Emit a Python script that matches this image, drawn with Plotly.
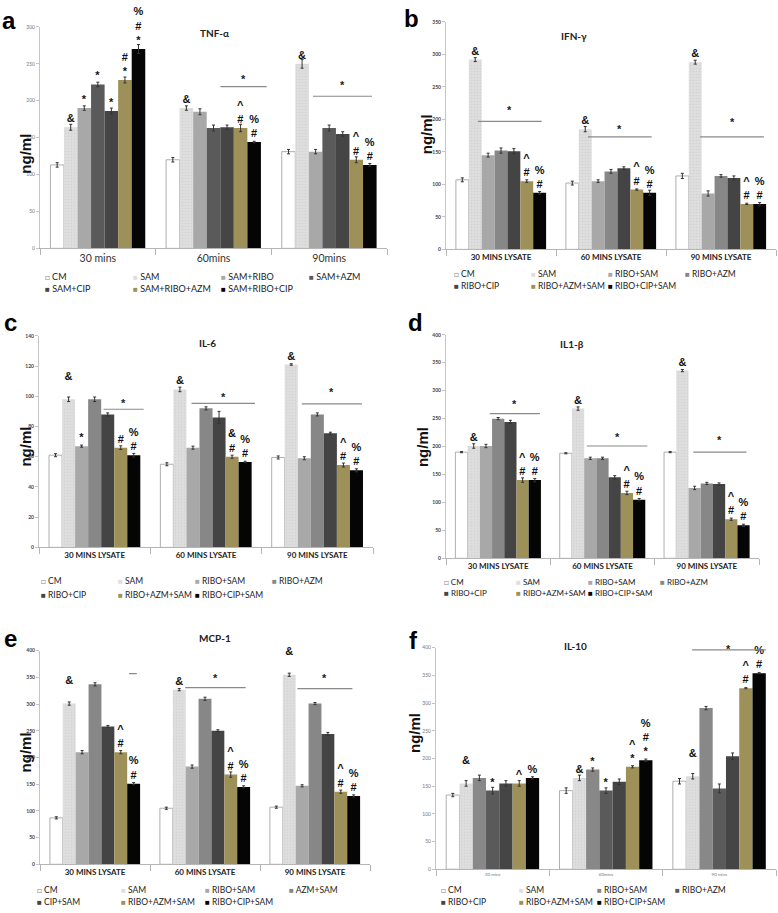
import plotly.graph_objects as go

W, H = 778, 913

# ---- data -------------------------------------------------------------
series_a = ["CM", "SAM", "SAM+RIBO", "SAM+AZM", "SAM+CIP", "SAM+RIBO+AZM", "SAM+RIBO+CIP"]
series_std = ["CM", "SAM", "RIBO+SAM", "RIBO+AZM", "RIBO+CIP", "RIBO+AZM+SAM", "RIBO+CIP+SAM"]
series_e = ["CM", "SAM", "RIBO+SAM", "AZM+SAM", "CIP+SAM", "RIBO+AZM+SAM", "RIBO+CIP+SAM"]

cats_a = ["30 mins", "60mins", "90mins"]
cats_lys = ["30 MINS LYSATE", "60 MINS LYSATE", "90 MINS LYSATE"]
cats_f = ["30 mins", "60mins", "90 mins"]

# one row per time point, one value per series
tnf = [[113, 164, 190, 222, 186, 228, 270],
       [120, 190, 185, 163, 164, 163, 144],
       [131, 250, 131, 163, 155, 120, 113]]
tnf_err = [[3, 4, 3, 3, 4, 4, 6], [3, 3, 4, 4, 3, 5, 1], [3, 6, 3, 4, 3, 4, 2]]
tnf_marks = [["", "&", "*", "*", "*", "#<br>*", "%<br>#<br>*"],
             ["", "&", "", "", "", "^<br>#", "%<br>#"],
             ["", "&", "", "", "", "^<br>#", "%<br>#"]]

ifn = [[107, 292, 145, 152, 151, 105, 87],
       [102, 185, 105, 120, 125, 92, 87],
       [113, 288, 86, 113, 110, 70, 70]]
ifn_err = [[3, 3, 3, 4, 4, 2, 2], [3, 4, 2, 3, 2, 1, 4], [4, 3, 4, 2, 3, 1, 2]]
ifn_marks = [["", "&", "", "", "", "^<br>#", "%<br>#"],
             ["", "&", "", "", "", "^<br>#", "%<br>#"],
             ["", "&", "", "", "", "^<br>#", "%<br>#"]]

il6 = [[61, 98, 67, 98, 88, 66, 61],
       [55, 104.5, 66, 92, 86, 60, 56.5],
       [59.5, 121, 59, 88, 75.5, 54.5, 51]]
il6_err = [[1, 1.5, 0.7, 1.5, 1, 1.2, 1.2], [1, 1.5, 1, 1, 4, 1, 0.5], [1, 0.5, 1, 1, 0.7, 1.3, 1]]
il6_marks = [["", "&<br> ", "*", "", "", "#", "%<br>#"],
             ["", "&", "", "", "", "&<br>#", "%<br>#"],
             ["", "&", "", "", "", "^<br>#", "%<br>#"]]

il1b = [[190, 201, 201, 250, 244, 140, 140],
        [188, 268, 179, 179, 145, 117, 105],
        [190, 336, 126, 134, 133, 70, 59]]
il1b_err = [[1, 4, 3, 2, 3, 4, 3], [1, 3, 2, 2, 3, 3, 2], [1, 2, 3, 2, 2, 2, 2]]
il1b_marks = [["", "&", "", "", "", "^<br>#", "%<br>#"],
              ["", "&", "", "", "", "^<br>#", "%<br>#"],
              ["", "&", "", "", "", "^<br>#", "%<br>#"]]

mcp1 = [[87, 301, 210, 337, 258, 210, 151],
        [105, 327, 183, 310, 250, 168, 145],
        [107, 355, 147, 301, 244, 136, 128]]
mcp1_err = [[2, 3, 3, 3, 2, 3, 2], [2, 2, 3, 3, 2, 5, 2], [2, 3, 2, 2, 3, 3, 2]]
mcp1_marks = [["", "&<br> ", "", "", "", "^<br>#", "%<br>#"],
              ["", "&", "", "", "", "^<br>#", "%<br>#"],
              ["", "&<br> ", "", "", "", "^<br>#", "%<br>#"]]

il10 = [[134, 155, 165, 142, 155, 155, 165],
        [142, 165, 180, 142, 158, 185, 197],
        [159, 168, 291, 146, 204, 327, 354]]
il10_err = [[3, 5, 5, 6, 5, 5, 2], [5, 5, 3, 5, 5, 2, 2], [5, 5, 3, 8, 6, 1, 1]]
il10_marks = [["", "&<br> ", "", "*", "", "^", "%"],
              ["", "&", "*", "*", "", "^<br>*", "%<br>#<br>*"],
              ["", "&<br> ", "", "", "", "^<br>#", "%<br>#"]]

# significance bars: (x0, x1 in category units, line level, star level)
sig_a = [(1.06, 1.46, 219, 229), (1.86, 2.37, 206, 221)]
sig_b = [(-0.21, 0.37, 197, 215), (0.79, 1.37, 173, 185), (1.81, 2.39, 173, 196)]
sig_c = [(0.08, 0.44, 91.4, 95.5), (0.87, 1.44, 95.3, 99.5), (1.86, 2.40, 95, 103)]
sig_d = [(-0.08, 0.40, 259, 276), (0.85, 1.43, 201, 217), (1.87, 2.38, 190, 212)]
sig_e = [(0.31, 0.38, 357, None), (0.82, 1.37, 331, 348), (1.84, 2.34, 329, 348)]
sig_f = [(1.76, 2.41, 396, 398)]

# ---- styles -----------------------------------------------------------
pal_std = ["#ffffff", "#dedede", "#a8a8a8", "#878787", "#444444", "#9d9058", "#050505"]
pal_a = ["#ffffff", "#dedede", "#a8a8a8", "#5a5a5a", "#454545", "#9d9058", "#050505"]
pal_f = ["#ffffff", "#dedede", "#888888", "#5a5a5a", "#454545", "#9d9058", "#050505"]

FONT = "Lato, 'Open Sans', sans-serif"
LYS_FONT = dict(size=8, color="#222", family=FONT, weight="bold")

# px geometry of each panel: plot box (left, right, top, bottom), ymax, dtick
panels = [
    dict(key="a", title="TNF-α", series=series_a, cats=cats_a, vals=tnf, err=tnf_err,
         marks=tnf_marks, sig=sig_a, pal=pal_a, box=(40, 387, 24, 247), ymax=300, dtick=50,
         cat_font=dict(size=10.5, color="#333", family=FONT), tick_bold=False,
         letter=(0, 2), title_xy=(198, 22), ylab=(15, 130), leg=(43, 88, 275, 287, 9)),
    dict(key="b", title="IFN-γ", series=series_std, cats=cats_lys, vals=ifn, err=ifn_err,
         marks=ifn_marks, sig=sig_b, pal=pal_std, box=(446, 776, 19, 248), ymax=350, dtick=50,
         cat_font=LYS_FONT, tick_bold=True,
         letter=(402, 0), title_xy=(589, 25), ylab=(426, 110), leg=(452, 77, 273, 285, 8.5)),
    dict(key="c", title="IL-6", series=series_std, cats=cats_lys, vals=il6, err=il6_err,
         marks=il6_marks, sig=sig_c, pal=pal_std, box=(39, 373, 335, 548), ymax=140, dtick=20,
         cat_font=LYS_FONT, tick_bold=True,
         letter=(2, 306), title_xy=(197, 342), ylab=(15, 447), leg=(39, 77, 582, 596, 8.5)),
    dict(key="d", title="IL1-β", series=series_std, cats=cats_lys, vals=il1b, err=il1b_err,
         marks=il1b_marks, sig=sig_d, pal=pal_std, box=(446, 759, 334, 559), ymax=400, dtick=50,
         cat_font=LYS_FONT, tick_bold=True,
         letter=(406, 306), title_xy=(586, 343), ylab=(422, 447), leg=(442, 72, 583, 594, 8)),
    dict(key="e", title="MCP-1", series=series_e, cats=cats_lys, vals=mcp1, err=mcp1_err,
         marks=mcp1_marks, sig=sig_e, pal=pal_std, box=(40, 370, 652, 867), ymax=400, dtick=50,
         cat_font=LYS_FONT, tick_bold=True,
         letter=(2, 624), title_xy=(197, 647), ylab=(15, 777), leg=(35, 84, 893, 905, 8.5)),
    dict(key="f", title="IL-10", series=series_std, cats=cats_f, vals=il10, err=il10_err,
         marks=il10_marks, sig=sig_f, pal=pal_f, box=(436, 776, 649, 872), ymax=400, dtick=50,
         cat_font=dict(size=4.5, color="#777", family=FONT), tick_bold=False,
         letter=(407, 626), title_xy=(589, 655), ylab=(414, 757), leg=(439, 78, 893, 905, 8.5)),
]


def px(x):
    return x / W


def py(y):
    return 1 - y / H


fig = go.Figure()
layout = dict(width=W, height=H, margin=dict(l=0, r=0, t=0, b=0),
              paper_bgcolor="white", plot_bgcolor="white", showlegend=False,
              barmode="group", bargap=0.18, bargroupgap=0.0,
              font=dict(family=FONT))
shapes, annotations = [], []

for k, p in enumerate(panels):
    sfx = "" if k == 0 else str(k + 1)
    xa, ya = "x" + sfx, "y" + sfx
    for j, name in enumerate(p["series"]):
        col = p["pal"][j]
        marker = dict(color=col, line=dict(width=0.8 if j == 0 else 0, color="#9a9a9a"))
        if j == 1:
            marker["pattern"] = dict(shape=".", fgcolor="#c4c4c4", bgcolor=col, size=3, solidity=0.25)
        fig.add_trace(go.Bar(
            x=p["cats"], y=[row[j] for row in p["vals"]], name=name,
            marker=marker, xaxis=xa, yaxis=ya,
            error_y=dict(type="data", array=[row[j] for row in p["err"]],
                         thickness=1, width=1.5, color="#333"),
            text=[row[j] for row in p["marks"]], textposition="outside",
            constraintext="none", cliponaxis=False,
            textfont=dict(family="Liberation Sans, Arial", size=11, color="#111", weight="bold"),
            hoverinfo="skip"))

    l, r, t, b = p["box"]
    tickfont = dict(size=5, color="#444" if p["tick_bold"] else "#777", family=FONT)
    layout["xaxis" + sfx] = dict(domain=[px(l), px(r)], anchor=ya, showline=True,
                                 linecolor="#b5b5b5", linewidth=1, ticks="outside",
                                 tickson="boundaries", ticklen=6, tickcolor="#b5b5b5",
                                 tickfont=p["cat_font"], showgrid=False, fixedrange=True)
    layout["yaxis" + sfx] = dict(domain=[py(b), py(t)], anchor=xa, range=[0, p["ymax"]],
                                 dtick=p["dtick"], showline=True, linecolor="#c5c5c5",
                                 linewidth=1, ticks="outside", ticklen=3, tickcolor="#c5c5c5",
                                 tickfont=tickfont, showgrid=False, zeroline=False)
    if p["tick_bold"]:
        layout["yaxis" + sfx]["tickprefix"] = "<b>"
        layout["yaxis" + sfx]["ticksuffix"] = "</b>"

    # significance lines
    for x0, x1, yl, ys in p["sig"]:
        shapes.append(dict(type="line", xref=xa, yref=ya, x0=x0, x1=x1, y0=yl, y1=yl,
                           line=dict(color="#8a8a8a", width=1.2)))
        if ys is not None:
            annotations.append(dict(x=(x0 + x1) / 2, y=ys, xref=xa, yref=ya, text="<b>*</b>",
                                    showarrow=False, font=dict(size=11, color="#222",
                                                               family="Liberation Sans")))

    # panel letter, title, y label
    lx, ly = p["letter"]
    annotations.append(dict(x=px(lx), y=py(ly), xref="paper", yref="paper", xanchor="left",
                            yanchor="top", text="<b>%s</b>" % p["key"], showarrow=False,
                            font=dict(size=24, family="Liberation Sans, Arial", color="#000")))
    tx, ty = p["title_xy"]
    annotations.append(dict(x=px(tx), y=py(ty), xref="paper", yref="paper", text="<b>%s</b>" % p["title"],
                            showarrow=False, font=dict(size=10, family=FONT, color="#222")))
    yx, yy = p["ylab"]
    annotations.append(dict(x=px(yx), y=py(yy), xref="paper", yref="paper", text="<b>ng/ml</b>",
                            textangle=-90, showarrow=False,
                            font=dict(size=15, family="Liberation Sans, Arial", color="#111")))

    # legend (two rows: 4 + 3)
    gx, gdx, r1, r2, fs = p["leg"]
    for j, name in enumerate(p["series"]):
        col = p["pal"][j]
        sw = "<span style='color:#8a8a8a;font-size:8px'>□</span>" if j == 0 else \
            "<span style='color:%s;font-size:8px'>■</span>" % col
        annotations.append(dict(x=px(gx + (j % 4) * gdx), y=py(r1 if j < 4 else r2),
                                xref="paper", yref="paper", xanchor="left", yanchor="middle",
                                text=sw + " " + name, showarrow=False,
                                font=dict(size=fs, family=FONT, color="#222")))

layout["shapes"] = shapes
layout["annotations"] = annotations
fig.update_layout(layout)

# the page body has a default 8px margin; drop it so the figure sits at 0,0
fig.write_html("out.html", config={"displayModeBar": False},
               post_script="document.body.style.margin='0';")
